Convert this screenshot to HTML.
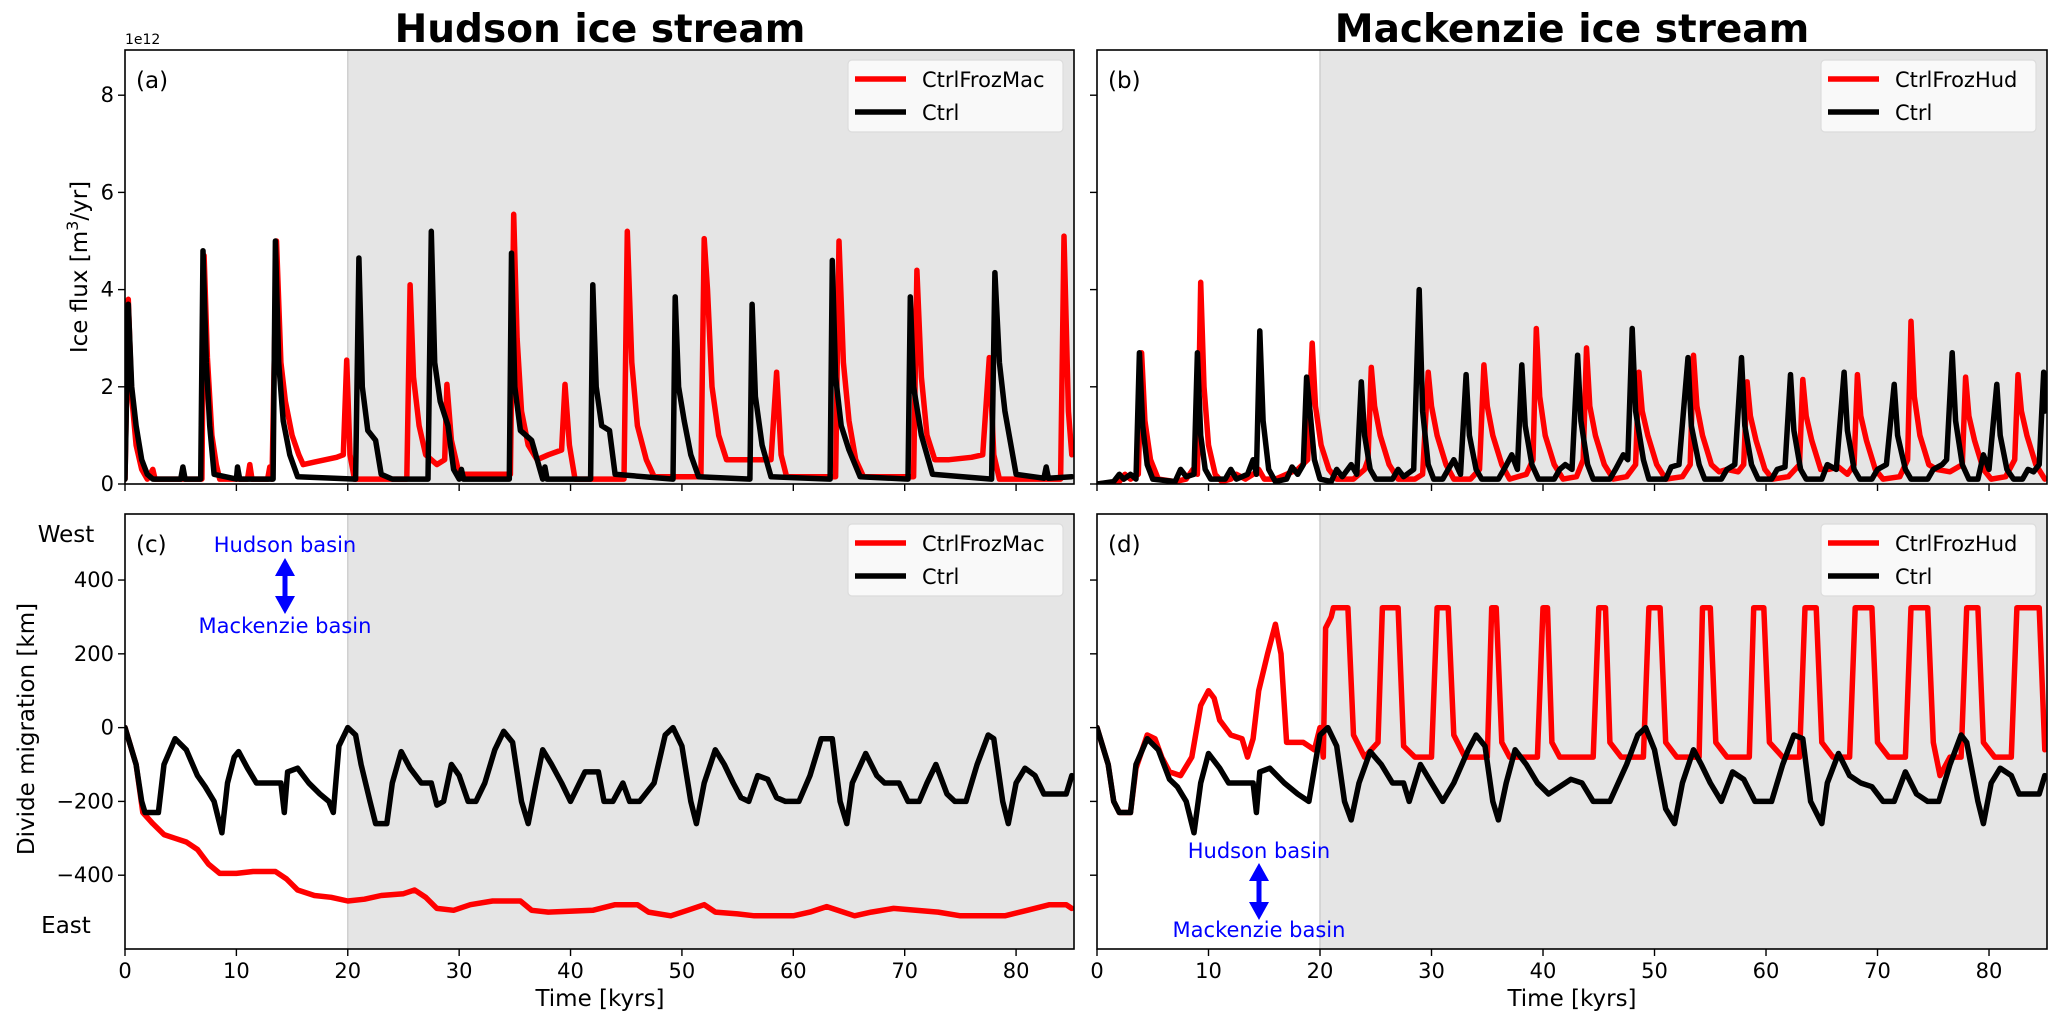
<!DOCTYPE html>
<html><head><meta charset="utf-8">
<style>
html,body{margin:0;padding:0;background:#fff;}
svg{display:block;font-family:"DejaVu Sans","Liberation Sans",sans-serif;}
</style></head>
<body>
<svg id="fig" width="2067" height="1024" viewBox="0 0 2067 1024" xmlns="http://www.w3.org/2000/svg"></svg>
<script>
// ---------- DATA ----------
const xTicks = [0,10,20,30,40,50,60,70,80];
const fluxTicks = [0,2,4,6,8];
const migTicks = [-400,-200,0,200,400];
const frozenStart = 20;

const fluxHudCtrl = [[0,0.1],[0.3,3.7],[0.6,2.0],[1.0,1.2],[1.5,0.5],[2.0,0.2],[2.5,0.1],[5,0.1],[5.2,0.35],[5.4,0.1],[6.8,0.1],[7.0,4.8],[7.3,2.5],[7.6,1.2],[8.0,0.2],[10,0.1],[10.1,0.35],[10.3,0.1],[13.3,0.1],[13.5,5.0],[13.8,2.5],[14.2,1.3],[14.8,0.6],[15.5,0.15],[20.7,0.1],[21.0,4.65],[21.3,2.0],[21.8,1.1],[22.5,0.9],[23,0.2],[24,0.1],[27.2,0.1],[27.5,5.2],[27.8,2.5],[28.3,1.7],[29,1.2],[29.5,0.3],[30,0.1],[30.2,0.3],[30.4,0.1],[34.5,0.1],[34.7,4.75],[35.0,2.0],[35.5,1.1],[36.5,0.9],[37.5,0.1],[37.7,0.35],[37.9,0.1],[41.8,0.1],[42.0,4.1],[42.3,2.0],[42.8,1.2],[43.5,1.1],[44,0.2],[49.2,0.1],[49.4,3.85],[49.7,2.0],[50.2,1.3],[50.8,0.6],[51.5,0.15],[56.1,0.1],[56.3,3.7],[56.6,1.8],[57.2,0.8],[58,0.15],[63.3,0.1],[63.5,4.6],[63.8,2.2],[64.3,1.2],[65,0.7],[66,0.15],[70.3,0.1],[70.5,3.85],[70.8,2.0],[71.5,1.0],[72.5,0.2],[77.8,0.1],[78.1,4.35],[78.5,2.5],[79,1.5],[80,0.2],[82.5,0.12],[82.7,0.35],[82.9,0.12],[85,0.15]];

const fluxHudFroz = [[0,0.1],[0.3,3.8],[0.6,1.8],[1,0.8],[1.5,0.3],[2,0.1],[2.5,0.3],[2.7,0.1],[6.9,0.1],[7.1,4.7],[7.4,2.6],[7.8,1.0],[8.2,0.4],[8.5,0.1],[11,0.1],[11.2,0.4],[11.4,0.1],[12.8,0.1],[13.0,0.35],[13.2,0.1],[13.6,5.0],[14.0,2.5],[14.4,1.7],[15,1.0],[15.6,0.6],[16,0.4],[17,0.45],[18,0.5],[19,0.55],[19.6,0.6],[19.9,2.55],[20.2,0.6],[20.6,0.1],[25.3,0.1],[25.6,4.1],[25.9,2.2],[26.4,1.2],[27,0.6],[28,0.4],[28.7,0.5],[28.9,2.05],[29.3,0.9],[30,0.2],[34.6,0.2],[34.9,5.55],[35.2,3.0],[35.6,1.5],[36.2,0.8],[37,0.5],[38,0.6],[39.2,0.7],[39.5,2.05],[39.9,0.8],[40.4,0.1],[44.8,0.1],[45.1,5.2],[45.5,2.5],[46,1.2],[46.8,0.5],[47.5,0.15],[51.7,0.15],[52.0,5.05],[52.3,4.0],[52.7,2.0],[53.3,1.0],[54,0.5],[56,0.5],[58,0.5],[58.5,2.3],[58.9,0.6],[59.4,0.15],[63.8,0.15],[64.1,5.0],[64.5,2.5],[65,1.3],[65.6,0.5],[66.3,0.15],[70.8,0.15],[71.1,4.4],[71.5,2.2],[72,1.0],[72.7,0.5],[74,0.5],[76,0.55],[77,0.6],[77.6,2.6],[78.0,0.6],[78.5,0.1],[84.0,0.1],[84.3,5.1],[84.7,1.5],[85,0.6]];

const fluxMacCtrl = [[0,0],[1.5,0.05],[2,0.2],[2.4,0.1],[3,0.2],[3.5,0.1],[3.8,2.7],[4.1,1.2],[4.5,0.4],[5,0.1],[7,0.05],[7.5,0.3],[8,0.15],[8.7,0.2],[9.0,2.7],[9.3,1.0],[9.7,0.3],[10.2,0.1],[11.5,0.1],[12,0.3],[12.5,0.1],[13.5,0.2],[14.0,0.5],[14.3,0.2],[14.6,3.15],[14.9,1.3],[15.4,0.3],[16,0.05],[17,0.1],[17.5,0.35],[18,0.2],[18.5,0.4],[18.8,2.2],[19.1,1.5],[19.5,0.5],[20,0.1],[21,0.05],[21.5,0.3],[22,0.15],[22.8,0.4],[23.3,0.2],[23.7,2.1],[24.0,1.0],[24.5,0.3],[25,0.1],[26.5,0.1],[27,0.3],[27.5,0.15],[28.4,0.3],[28.9,4.0],[29.2,1.5],[29.7,0.4],[30.2,0.1],[31,0.1],[31.5,0.3],[32,0.5],[32.6,0.2],[33.1,2.25],[33.4,1.0],[34,0.3],[34.5,0.1],[36,0.1],[36.5,0.3],[37.2,0.6],[37.7,0.3],[38.1,2.45],[38.4,1.2],[39,0.4],[39.6,0.1],[41,0.1],[41.5,0.3],[42,0.4],[42.6,0.3],[43.1,2.65],[43.4,1.3],[44,0.4],[44.5,0.1],[46,0.1],[46.5,0.3],[47.2,0.6],[47.6,0.5],[48.0,3.2],[48.3,1.5],[49,0.5],[49.5,0.1],[51,0.1],[51.5,0.35],[52.2,0.4],[53.0,2.6],[53.3,1.2],[54,0.4],[54.5,0.1],[56,0.1],[56.5,0.3],[57.2,0.4],[57.8,2.6],[58.1,1.2],[58.7,0.4],[59.3,0.1],[60.5,0.1],[61,0.3],[61.7,0.35],[62.2,2.25],[62.5,1.1],[63.1,0.3],[63.6,0.1],[65,0.1],[65.5,0.4],[66.3,0.3],[67.0,2.3],[67.3,1.1],[67.9,0.3],[68.4,0.1],[69.5,0.1],[70,0.3],[70.8,0.4],[71.5,2.05],[71.8,1.0],[72.5,0.3],[73,0.1],[74.5,0.1],[75,0.3],[75.8,0.4],[76.2,0.5],[76.7,2.7],[77,1.3],[77.6,0.4],[78.2,0.1],[79,0.1],[79.5,0.6],[80,0.3],[80.7,2.05],[81,1.0],[81.6,0.3],[82.2,0.1],[83,0.1],[83.5,0.3],[84,0.25],[84.5,0.4],[84.9,2.3],[85,1.5]];

const fluxMacFroz = [[0,0],[2,0.05],[2.5,0.2],[3,0.1],[3.7,0.2],[4.0,2.7],[4.3,1.3],[4.8,0.5],[5.5,0.1],[7,0.05],[8,0.1],[8.6,0.3],[9.0,0.2],[9.3,4.15],[9.6,2.0],[10,0.8],[10.6,0.2],[11.2,0.05],[12,0.1],[12.5,0.2],[13.3,0.1],[14,0.2],[14.5,0.3],[15,0.1],[16,0.1],[17,0.2],[18,0.3],[18.9,0.5],[19.3,2.9],[19.6,1.6],[20.1,0.8],[20.8,0.3],[21.5,0.1],[23,0.1],[24,0.3],[24.3,0.5],[24.6,2.4],[24.9,1.6],[25.4,1.0],[26.2,0.4],[27,0.1],[28.5,0.1],[29.2,0.2],[29.7,2.3],[30,1.6],[30.5,1.0],[31.3,0.4],[32,0.1],[33.5,0.1],[34.3,0.3],[34.7,2.45],[35,1.6],[35.5,1.0],[36.3,0.4],[37,0.1],[38.5,0.2],[39.1,0.5],[39.4,3.2],[39.7,1.8],[40.2,1.0],[41,0.4],[41.8,0.1],[43,0.15],[43.6,0.5],[43.9,2.8],[44.2,1.6],[44.7,1.0],[45.5,0.4],[46.3,0.1],[47.5,0.15],[48.3,0.4],[48.6,2.3],[48.9,1.5],[49.4,1.0],[50.2,0.4],[51,0.1],[52.5,0.15],[53.2,0.4],[53.5,2.65],[53.8,1.6],[54.3,1.0],[55.1,0.4],[55.8,0.25],[56.5,0.3],[57.5,0.25],[58.0,0.4],[58.3,2.1],[58.6,1.4],[59.1,0.9],[59.9,0.3],[60.6,0.1],[62,0.15],[63.0,0.4],[63.3,2.15],[63.6,1.4],[64.1,0.9],[64.9,0.3],[65.6,0.3],[66.5,0.35],[67.3,0.2],[67.9,0.4],[68.2,2.25],[68.5,1.4],[69,0.9],[69.8,0.3],[70.5,0.1],[72,0.15],[72.7,0.5],[73.0,3.35],[73.3,1.8],[73.8,1.0],[74.6,0.4],[75.3,0.3],[76.5,0.25],[77.6,0.4],[77.9,2.2],[78.2,1.4],[78.7,0.9],[79.5,0.3],[80.2,0.1],[81.5,0.15],[82.3,0.5],[82.6,2.25],[82.9,1.5],[83.4,1.0],[84.2,0.4],[85,0.1]];

const migHudCtrl = [[0,0],[1,-100],[1.5,-200],[1.8,-230],[3,-230],[3.5,-100],[4.5,-30],[5.5,-60],[6.5,-130],[7.2,-160],[8,-200],[8.7,-285],[9.2,-150],[9.8,-80],[10.2,-65],[11,-110],[11.8,-150],[14,-150],[14.3,-230],[14.6,-120],[15.5,-110],[16.5,-150],[17.5,-180],[18.3,-200],[18.7,-230],[19.2,-50],[20,0],[20.7,-20],[21.2,-100],[22,-200],[22.5,-260],[23.5,-260],[24,-150],[24.8,-65],[25.6,-110],[26.6,-150],[27.5,-150],[28,-210],[28.6,-200],[29.3,-100],[30,-130],[30.8,-200],[31.5,-200],[32.3,-150],[33.2,-60],[34,-10],[34.8,-40],[35.6,-200],[36.2,-260],[36.9,-150],[37.5,-60],[38.3,-100],[39.2,-150],[40,-200],[40.8,-150],[41.3,-120],[42.5,-120],[43,-200],[43.8,-200],[44.7,-150],[45.3,-200],[46.2,-200],[47.5,-150],[48.5,-20],[49.2,0],[50,-50],[50.8,-200],[51.3,-260],[52,-150],[53,-60],[53.8,-100],[54.6,-150],[55.3,-190],[56,-200],[56.8,-130],[57.7,-140],[58.5,-190],[59.3,-200],[60.5,-200],[61.5,-130],[62.5,-30],[63.5,-30],[64.2,-200],[64.8,-260],[65.3,-150],[66.5,-70],[67.5,-130],[68.2,-150],[69.5,-150],[70.3,-200],[71.3,-200],[72,-150],[72.8,-100],[73.8,-180],[74.5,-200],[75.5,-200],[76.5,-100],[77.5,-20],[78,-30],[78.8,-200],[79.3,-260],[80,-150],[80.8,-110],[81.7,-130],[82.5,-180],[84.5,-180],[85,-130]];

const migHudFroz = [[0,0],[1,-100],[1.6,-230],[2.5,-260],[3.5,-290],[4.5,-300],[5.5,-310],[6.5,-330],[7.5,-370],[8.5,-395],[10,-395],[11.5,-390],[13.5,-390],[14.5,-410],[15.5,-440],[17,-455],[18.5,-460],[20,-470],[21.5,-465],[23,-455],[25,-450],[26,-440],[27,-460],[28,-490],[29.5,-495],[31,-480],[33,-470],[35.5,-470],[36.5,-495],[38,-500],[42,-495],[44,-480],[46,-480],[47,-500],[49,-510],[50.5,-495],[52,-480],[53,-500],[55,-505],[56.5,-510],[60,-510],[61.5,-500],[63,-485],[64.5,-500],[65.5,-510],[67,-500],[69,-490],[71,-495],[73,-500],[75,-510],[79,-510],[81,-495],[83,-480],[84.5,-480],[85,-490]];

const migMacCtrl = [[0,0],[1,-100],[1.5,-200],[2,-230],[3,-230],[3.5,-100],[4.5,-30],[5.5,-60],[6.5,-140],[7.2,-160],[8,-200],[8.7,-285],[9.3,-150],[10,-70],[11,-110],[11.8,-150],[14,-150],[14.3,-230],[14.6,-120],[15.5,-110],[16.8,-150],[18,-180],[19,-200],[20,-20],[20.7,0],[21.5,-50],[22.2,-200],[22.8,-250],[23.5,-150],[24.5,-65],[25.5,-100],[26.5,-150],[27.5,-150],[28,-200],[29,-100],[30,-150],[31,-200],[32,-150],[33.3,-60],[34,-20],[34.8,-50],[35.5,-200],[36,-250],[36.7,-150],[37.5,-60],[38.5,-100],[39.5,-150],[40.5,-180],[41.5,-160],[42.5,-140],[43.5,-150],[44.5,-200],[46,-200],[47.5,-100],[48.5,-20],[49.2,0],[50,-60],[51,-220],[51.8,-260],[52.5,-150],[53.5,-60],[54.2,-100],[55,-150],[56,-200],[57,-120],[58,-140],[59,-200],[60.5,-200],[61.5,-100],[62.5,-20],[63.3,-30],[64,-200],[65,-260],[65.5,-150],[66.5,-70],[67.5,-130],[68.5,-150],[69.5,-160],[70.5,-200],[71.5,-200],[72.5,-120],[73.5,-180],[74.5,-200],[75.5,-200],[76.5,-100],[77.5,-20],[78,-40],[79,-200],[79.5,-260],[80.2,-150],[81,-110],[82,-130],[82.7,-180],[84.5,-180],[85,-130]];

const migMacFroz = [[0,0],[1,-100],[1.5,-200],[2,-230],[3,-230],[3.5,-110],[4.5,-20],[5.2,-30],[5.8,-80],[6.5,-120],[7.5,-130],[8.5,-80],[9.3,60],[10,100],[10.5,80],[11,20],[12,-20],[13,-30],[13.5,-80],[14,-30],[14.5,100],[15.3,200],[16,280],[16.5,200],[17,-40],[18.5,-40],[19.5,-60],[20,0],[20.3,-80],[20.5,270],[21,300],[21.2,325],[22.5,325],[23,-20],[24,-80],[25.2,-40],[25.6,325],[27,325],[27.5,-50],[28.5,-80],[30,-80],[30.5,325],[31.5,325],[32,-20],[33,-80],[35,-80],[35.4,325],[35.8,325],[36.3,-40],[37,-80],[39.5,-80],[40,325],[40.4,325],[40.8,-40],[41.5,-80],[44.5,-80],[45,325],[45.6,325],[46,-40],[47,-80],[49,-80],[49.5,325],[50.5,325],[51,-40],[52,-80],[54,-80],[54.3,325],[55,325],[55.5,-40],[56.5,-80],[58.5,-80],[58.9,325],[59.8,325],[60.3,-40],[61.5,-80],[63,-80],[63.5,325],[64.5,325],[65,-40],[66,-80],[67.5,-80],[68,325],[69.5,325],[70,-40],[71,-80],[72.5,-80],[73,325],[74.5,325],[75,-40],[75.6,-130],[76.5,-80],[77.5,-80],[78,325],[79,325],[79.5,-40],[80.5,-80],[82,-80],[82.5,325],[84.5,325],[85,-60]];

// ---------- RENDER ----------
const NS = "http://www.w3.org/2000/svg";
const svg = document.getElementById('fig');
function mk(tag, attrs, parent, text){
  const e = document.createElementNS(NS, tag);
  for (const k in attrs) e.setAttribute(k, attrs[k]);
  if (text !== undefined) e.textContent = text;
  (parent || svg).appendChild(e);
  return e;
}
const XMIN = 0, XMAX = 85.2;
const panels = [
  {key:'a', left:125, right:1074, top:50, bottom:484, ymin:0, ymax:8.93, ticks:fluxTicks, labels:true, red:fluxHudFroz, black:fluxHudCtrl, redName:'CtrlFrozMac'},
  {key:'b', left:1097, right:2047, top:50, bottom:484, ymin:0, ymax:8.93, ticks:fluxTicks, labels:false, red:fluxMacFroz, black:fluxMacCtrl, redName:'CtrlFrozHud'},
  {key:'c', left:125, right:1074, top:514, bottom:949, ymin:-600, ymax:579, ticks:migTicks, labels:true, red:migHudFroz, black:migHudCtrl, redName:'CtrlFrozMac'},
  {key:'d', left:1097, right:2047, top:514, bottom:949, ymin:-600, ymax:579, ticks:migTicks, labels:false, red:migMacFroz, black:migMacCtrl, redName:'CtrlFrozHud'}
];
panels.forEach(p => {
  const xs = t => p.left + (t - XMIN) / (XMAX - XMIN) * (p.right - p.left);
  const ys = v => p.bottom - (v - p.ymin) / (p.ymax - p.ymin) * (p.bottom - p.top);
  const g = mk('g', {});
  
  
  const shade = mk('rect', {x:xs(frozenStart), y:p.top, width:p.right - xs(frozenStart), height:p.bottom - p.top, fill:'#e5e5e5'}, g);
  
  
  mk('line', {x1:xs(frozenStart), x2:xs(frozenStart), y1:p.top, y2:p.bottom, stroke:'#cfcfcf', 'stroke-width':1.5}, g);
  const clipId = 'clip' + p.key;
  const cp = mk('clipPath', {id:clipId}, g);
  mk('rect', {x:p.left, y:p.top, width:p.right - p.left, height:p.bottom - p.top}, cp);
  [['red', p.red, '#ff0000'], ['black', p.black, '#000000']].forEach(([nm, data, col]) => {
    const d = data.map((pt, i) => (i ? 'L' : 'M') + xs(pt[0]).toFixed(1) + ' ' + ys(pt[1]).toFixed(1)).join('');
    const path = mk('path', {d:d, fill:'none', stroke:col, 'stroke-width':5.5, 'stroke-linejoin':'round', 'stroke-linecap':'round', 'clip-path':'url(#' + clipId + ')'}, g);
    
    
  });
  const frame = mk('rect', {x:p.left, y:p.top, width:p.right - p.left, height:p.bottom - p.top, fill:'none', stroke:'#000', 'stroke-width':1.6}, g);
  
  
  xTicks.forEach(t => {
    mk('line', {x1:xs(t), x2:xs(t), y1:p.bottom, y2:p.bottom + 7, stroke:'#000', 'stroke-width':1.4}, g);
    if (p.key === 'c' || p.key === 'd') {
      const tl = mk('text', {x:xs(t), y:p.bottom + 29, 'text-anchor':'middle', 'font-size':21}, g, String(t));
      
      
    }
  });
  p.ticks.forEach(v => {
    mk('line', {x1:p.left - 7, x2:p.left, y1:ys(v), y2:ys(v), stroke:'#000', 'stroke-width':1.4}, g);
    if (p.labels) {
      const tl = mk('text', {x:p.left - 11, y:ys(v) + 7, 'text-anchor':'end', 'font-size':21}, g, v < 0 ? '\u2212' + (-v) : String(v));
      
      
    }
  });
  const pl = mk('text', {x:p.left + 11, y:p.top + 38, 'font-size':23}, g, '(' + p.key + ')');
  
  
  // legend
  const lx = p.right - 226, ly = p.top + 10;
  const lg = mk('g', {}, g);
  
  
  mk('rect', {x:lx, y:ly, width:215, height:72, rx:4, fill:'#f9f9f9', stroke:'#dcdcdc', 'stroke-width':1.2}, lg);
  mk('line', {x1:lx + 7, x2:lx + 58, y1:ly + 19, y2:ly + 19, stroke:'#ff0000', 'stroke-width':5.5}, lg);
  mk('line', {x1:lx + 7, x2:lx + 58, y1:ly + 52, y2:ly + 52, stroke:'#000', 'stroke-width':5.5}, lg);
  const le1 = mk('text', {x:lx + 74, y:ly + 27, 'font-size':21}, lg, p.redName);
  
  
  const le2 = mk('text', {x:lx + 74, y:ly + 60, 'font-size':21}, lg, 'Ctrl');
  
  
});

function txt(name, attrs, s){
  const e = mk('text', attrs, svg, s);
  
  
  return e;
}
txt('title-hudson', {x:600, y:42, 'text-anchor':'middle', 'font-size':39, 'font-weight':'bold'}, 'Hudson ice stream');
txt('title-mackenzie', {x:1572, y:42, 'text-anchor':'middle', 'font-size':39, 'font-weight':'bold'}, 'Mackenzie ice stream');
txt('offset-label', {x:125, y:44, 'font-size':14}, '1e12');
const yl = txt('y-axis-title-flux', {x:0, y:0, 'text-anchor':'middle', 'font-size':23, transform:'translate(87,267) rotate(-90)'}, '');
yl.innerHTML = 'Ice flux [m<tspan dy="-9" font-size="16">3</tspan><tspan dy="9">/yr]</tspan>';
txt('y-axis-title-migration', {x:0, y:0, 'text-anchor':'middle', 'font-size':23, transform:'translate(34,729) rotate(-90)'}, 'Divide migration [km]');
txt('x-axis-title', {x:600, y:1006, 'text-anchor':'middle', 'font-size':23}, 'Time [kyrs]');
txt('x-axis-title', {x:1572, y:1006, 'text-anchor':'middle', 'font-size':23}, 'Time [kyrs]');
txt('west-label', {x:66, y:542, 'text-anchor':'middle', 'font-size':23}, 'West');
txt('east-label', {x:66, y:933, 'text-anchor':'middle', 'font-size':23}, 'East');
txt('hudson-basin-label', {x:285, y:552, 'text-anchor':'middle', 'font-size':21, fill:'#0000ff'}, 'Hudson basin');
txt('mackenzie-basin-label', {x:285, y:633, 'text-anchor':'middle', 'font-size':21, fill:'#0000ff'}, 'Mackenzie basin');
txt('hudson-basin-label', {x:1259, y:858, 'text-anchor':'middle', 'font-size':21, fill:'#0000ff'}, 'Hudson basin');
txt('mackenzie-basin-label', {x:1259, y:937, 'text-anchor':'middle', 'font-size':21, fill:'#0000ff'}, 'Mackenzie basin');
function arrow(x, y1, y2){
  const g = mk('g', {fill:'#0000ff', stroke:'none'});
  
  
  mk('rect', {x:x - 2.5, y:y1 + 14, width:5, height:(y2 - y1) - 28}, g);
  mk('polygon', {points:`${x},${y1} ${x-10},${y1+18} ${x+10},${y1+18}`}, g);
  mk('polygon', {points:`${x},${y2} ${x-10},${y2-18} ${x+10},${y2-18}`}, g);
}
arrow(285, 558, 614);
arrow(1259, 863, 920);
</script>
</body></html>
